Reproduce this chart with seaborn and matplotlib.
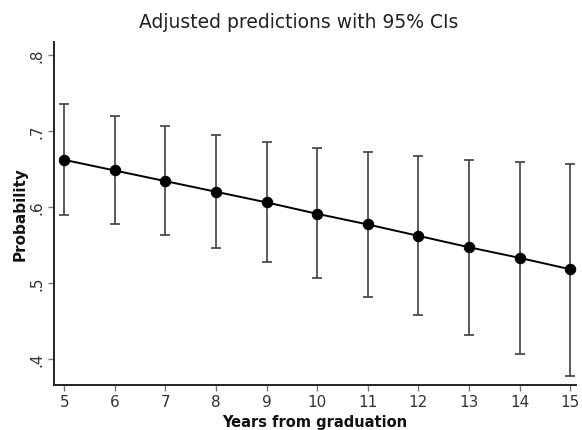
import matplotlib
matplotlib.use("Agg")
import matplotlib.pyplot as plt
import seaborn as sns
import pandas as pd
from matplotlib.ticker import FuncFormatter

years = [5, 6, 7, 8, 9, 10, 11, 12, 13, 14, 15]
prob = [0.662, 0.648, 0.634, 0.620, 0.606, 0.591, 0.577, 0.562, 0.547, 0.533, 0.518]
ci_low = [0.589, 0.577, 0.563, 0.546, 0.527, 0.506, 0.482, 0.458, 0.432, 0.407, 0.378]
ci_high = [0.735, 0.720, 0.706, 0.695, 0.686, 0.678, 0.672, 0.667, 0.662, 0.659, 0.656]
yticks = [0.4, 0.5, 0.6, 0.7, 0.8]

df = pd.DataFrame({"years": years, "prob": prob, "lo": ci_low, "hi": ci_high})

sns.set_theme(style="white")
plt.rcParams['font.family'] = ['DejaVu Sans']

fig = plt.figure(figsize=(5.82, 4.31), dpi=100)
ax = fig.add_axes([0.093, 0.105, 0.897, 0.795])

yerr = [df["prob"] - df["lo"], df["hi"] - df["prob"]]
ax.errorbar(df["years"], df["prob"], yerr=yerr, fmt="none", ecolor="#404040",
            elinewidth=1.2, capsize=3.5, capthick=1.2, zorder=1)
sns.lineplot(data=df, x="years", y="prob", ax=ax, color="black", linewidth=1.4,
             marker="o", markersize=7.5, markeredgecolor="black", zorder=3)

ax.set_xlim(4.8, 15.12)
ax.set_ylim(0.366, 0.817)
ax.set_xticks(years)
ax.set_yticks(yticks)
ax.yaxis.set_major_formatter(FuncFormatter(lambda v, p: ("%.1f" % v).lstrip("0")))
for lab in ax.get_yticklabels():
    lab.set_rotation(90)
    lab.set_va("center")

ax.tick_params(axis="both", which="major", direction="out", length=4, width=1,
               color="#777777", labelsize=11, labelcolor="#333333",
               left=True, bottom=True, pad=3)
for side in ["top", "right"]:
    ax.spines[side].set_visible(False)
for side in ["left", "bottom"]:
    ax.spines[side].set_color("#222222")
    ax.spines[side].set_linewidth(1.4)

ax.set_xlabel("Years from graduation", fontsize=10.5, fontweight="bold", color="#111111", labelpad=3)
ax.set_ylabel("Probability", fontsize=11, fontweight="bold", color="#111111", labelpad=1)
fig.text(0.5126, 0.936, "Adjusted predictions with 95% CIs", fontsize=13.5, color="#222222",
         ha="center", va="baseline")

fig.savefig("out.png", dpi=100)
